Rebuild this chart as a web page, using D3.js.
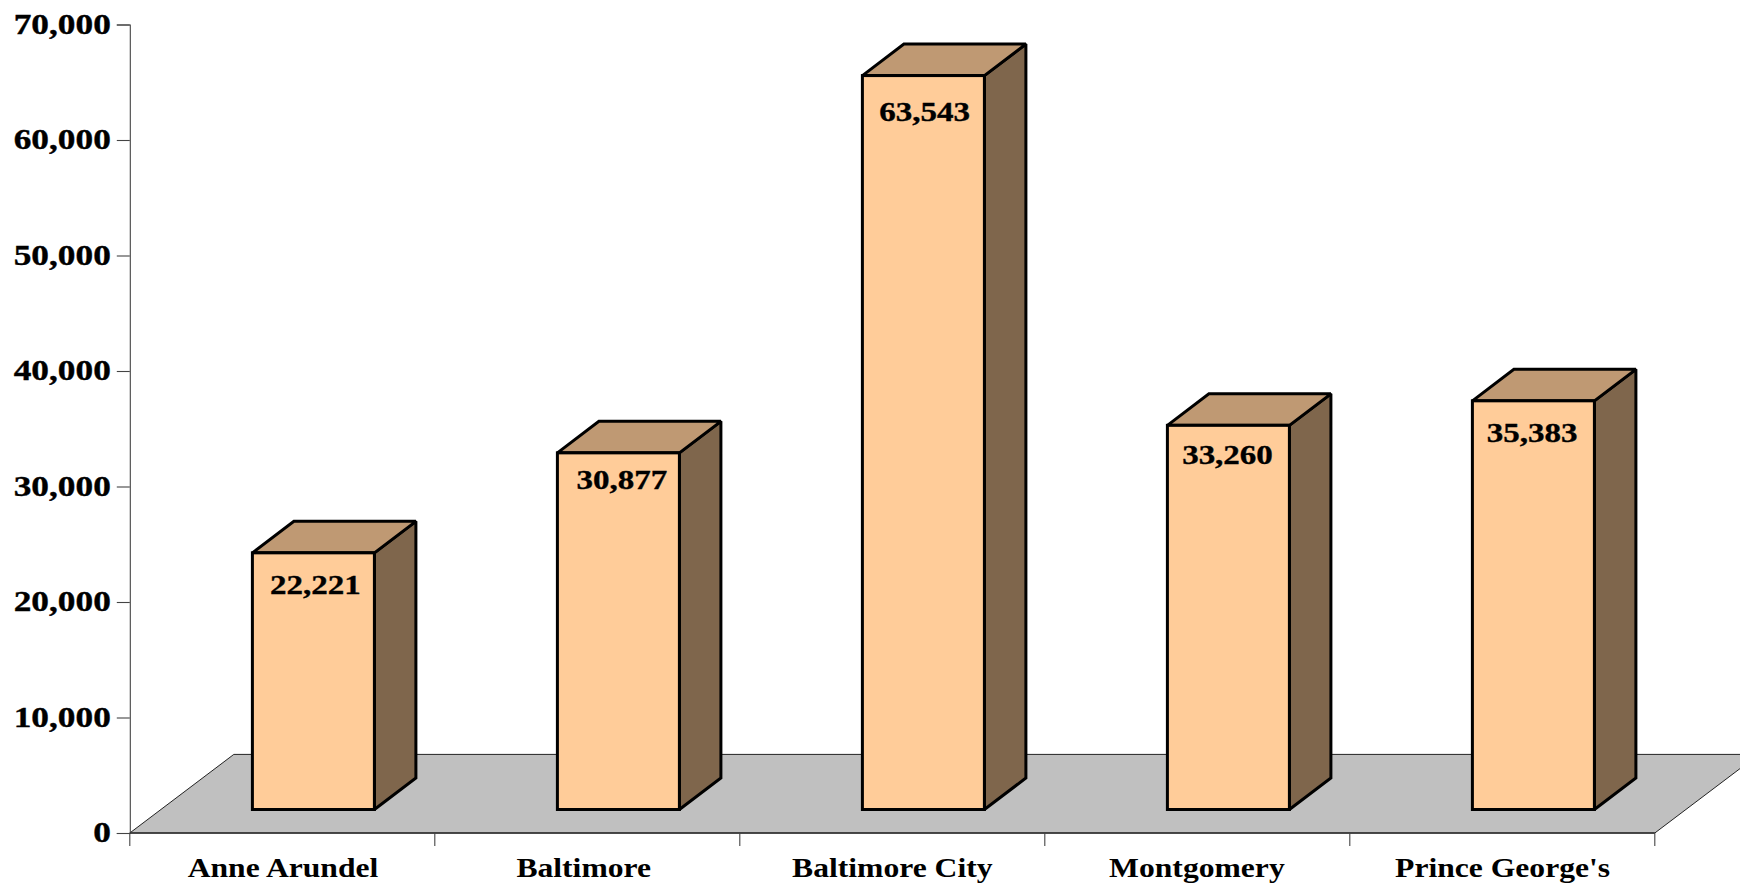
<!DOCTYPE html>
<html><head><meta charset="utf-8">
<script src="https://cdnjs.cloudflare.com/ajax/libs/d3/7.8.5/d3.min.js"></script>
<style>
html,body{margin:0;padding:0;background:#fff;overflow:hidden}
svg{display:block}
text{font-family:"Liberation Serif",serif;font-weight:bold;fill:#000}
</style></head><body>
<script>
const categories = ["Anne Arundel","Baltimore","Baltimore City","Montgomery","Prince George's"];
const values = [22221,30877,63543,33260,35383];
const yTicks = [0,10000,20000,30000,40000,50000,60000,70000];
// small hand placement differences seen in the reference
const labelNudgeX = [2,3.4,1.2,-0.9,-1.3];
const labelDrop = [41,35.8,45,38.3,41.3];
const catNudgeX = [0.7,-3.6,0,-0.4,0.3];

const W=1740,H=883;
const axisX=129.8, axisR=1654.8, y0=833, yTop=24.5;
const depthFloor=[104,-78.6], depthBar=[41.5,-31.5];
const barInset=122.6, barW=122, baseLift=23.5;
const sxTick=1.24, sxData=1.2, sxCat=1.15;

const svg=d3.select("body").append("svg").attr("width",W).attr("height",H);
const x=d3.scaleBand().domain(categories).range([axisX,axisR]);
const y=d3.scaleLinear().domain([0,70000]).range([y0,yTop]);
const h=v=>y(0)-y(v);
const pts=a=>a.map(p=>p.join(",")).join(" ");

// floor
svg.append("polygon")
  .attr("points",pts([[axisX,y0],[axisX+depthFloor[0],y0+depthFloor[1]],[axisR+depthFloor[0],y0+depthFloor[1]],[axisR,y0]]))
  .attr("fill","#c0c0c0").attr("stroke","#222").attr("stroke-width",1);

// axes
const ga=svg.append("g").attr("transform",`translate(${axisX},0)`)
  .call(d3.axisLeft(y).tickValues(yTicks).tickFormat(d3.format(",")).tickSize(13));
ga.selectAll("line,path").attr("stroke","#444").attr("stroke-width",1.1);
ga.selectAll("text").attr("font-size",28.5)
  .attr("x",-19/sxTick).attr("dy",0).attr("y",8.5)
  .attr("transform",`scale(${sxTick},1)`)
  .attr("stroke","#000").attr("stroke-width",0.35);

const gb=svg.append("g").attr("transform",`translate(0,${y0})`)
  .call(d3.axisBottom(x).tickSize(0));
gb.selectAll("path").attr("d",`M${axisX},0H${axisR}`).attr("stroke","#333").attr("stroke-width",1.4);
gb.selectAll("text").attr("font-size",27.5).attr("dy",0).attr("y",44)
  .attr("x",(d,i)=>catNudgeX[i]/sxCat)
  .attr("transform",`scale(${sxCat},1)`);
svg.append("g").selectAll("line").data(categories.map(c=>x(c)).concat([axisR]))
  .join("line").attr("x1",d=>d).attr("x2",d=>d).attr("y1",y0).attr("y2",y0+13)
  .attr("stroke","#444").attr("stroke-width",1.1);

// bars
const data=categories.map((c,i)=>({c,v:values[i],i}));
const g=svg.append("g").selectAll("g").data(data).join("g")
  .attr("stroke","#000").attr("stroke-width",3).attr("stroke-linejoin","miter").attr("stroke-miterlimit",1.5);
const fx=d=>x(d.c)+barInset, by=y0-baseLift, ty=d=>by-h(d.v);
const dx=depthBar[0], dy=depthBar[1];
g.append("polygon").attr("fill","#7f664c")
  .attr("points",d=>pts([[fx(d)+barW,by],[fx(d)+barW+dx,by+dy],[fx(d)+barW+dx,ty(d)+dy],[fx(d)+barW,ty(d)]]));
g.append("polygon").attr("fill","#bf9973")
  .attr("points",d=>pts([[fx(d),ty(d)],[fx(d)+dx,ty(d)+dy],[fx(d)+barW+dx,ty(d)+dy],[fx(d)+barW,ty(d)]]));
g.append("rect").attr("fill","#ffcc99")
  .attr("x",fx).attr("y",ty).attr("width",barW).attr("height",d=>h(d.v));
svg.append("g").selectAll("text").data(data).join("text")
  .attr("transform",d=>`translate(${fx(d)+barW/2+labelNudgeX[d.i]},${ty(d)+labelDrop[d.i]}) scale(${sxData},1)`)
  .attr("text-anchor","middle").attr("font-size",27.5)
  .attr("stroke","#000").attr("stroke-width",0.35)
  .text(d=>d3.format(",")(d.v));
</script>
</body></html>
